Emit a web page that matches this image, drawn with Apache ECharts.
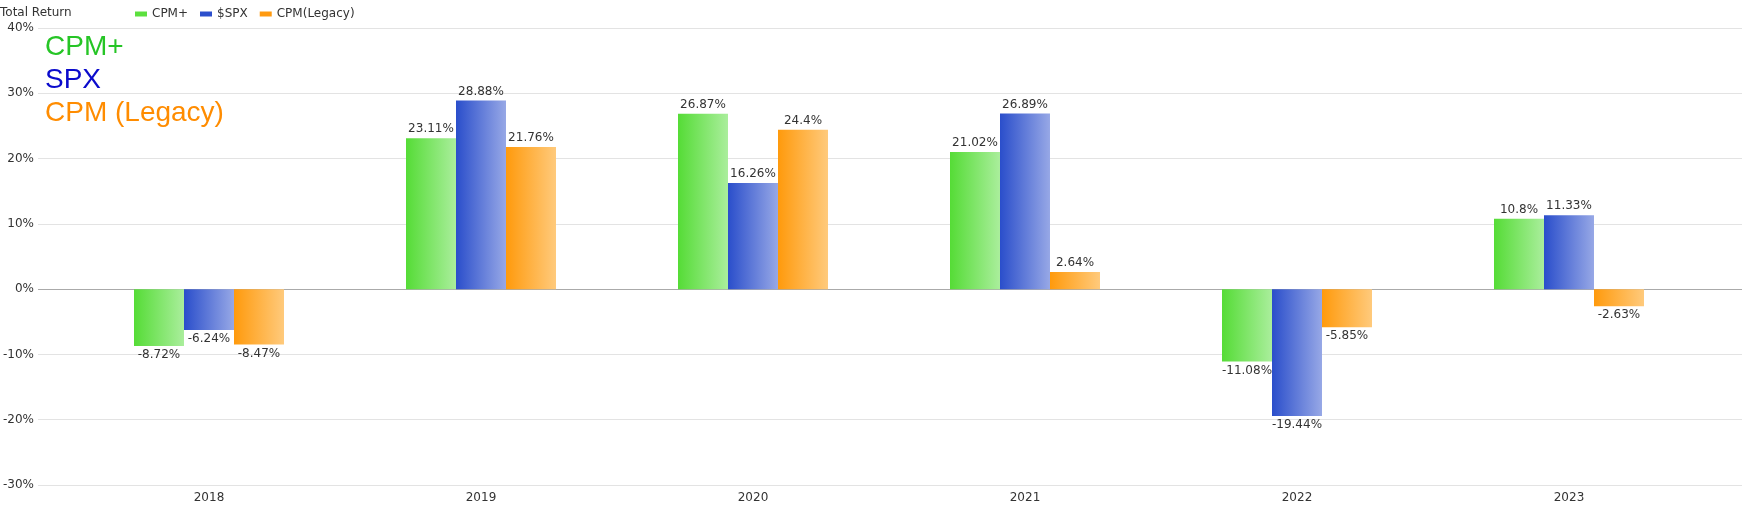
<!DOCTYPE html>
<html>
<head>
<meta charset="utf-8">
<script src="https://cdn.jsdelivr.net/npm/echarts@6/dist/echarts.min.js"></script>
<style>
html,body{margin:0;padding:0;background:#fff;}
#chart{width:1751px;height:506px;}
</style>
</head>
<body>
<div id="chart"></div>
<script>
const categories = ['2018', '2019', '2020', '2021', '2022', '2023'];
const seriesNames = ['CPM+', '$SPX', 'CPM(Legacy)'];
const cpmPlus = [-8.72, 23.11, 26.87, 21.02, -11.08, 10.8];
const spx = [-6.24, 28.88, 16.26, 26.89, -19.44, 11.33];
const cpmLegacy = [-8.47, 21.76, 24.4, 2.64, -5.85, -2.63];
const yTicks = [-30, -20, -10, 0, 10, 20, 30, 40];
const annotations = ['CPM+', 'SPX', 'CPM (Legacy)'];

const gradients = [
  ['#55dc36', '#aaee9c'],
  ['#2a4ecb', '#97a8e6'],
  ['#ff9a0c', '#ffca7c']
];
const solid = ['#5ce03e', '#2c4fcc', '#ff9a10'];
const annColors = ['#26c526', '#0b0bcc', '#ff8c00'];
const FONT = 'DejaVu Sans, sans-serif';

function grad(c) {
  return {type: 'linear', x: 0, y: 0, x2: 1, y2: 0,
    colorStops: [{offset: 0, color: c[0]}, {offset: 1, color: c[1]}]};
}
function mkData(vals) {
  return vals.map(v => ({value: v, label: {position: v < 0 ? 'bottom' : 'top'}}));
}
const values = [cpmPlus, spx, cpmLegacy];
const yMin = yTicks[0], yMax = yTicks[yTicks.length - 1];
const splitColors = yTicks.map(t => t === 0 ? '#aaaaaa' : '#e3e3e3');

const chart = echarts.init(document.getElementById('chart'), null, {renderer: 'canvas'});
chart.setOption({
  animation: false,
  textStyle: {fontFamily: FONT},
  title: {
    text: 'Total Return', left: 0, top: 7, padding: 0,
    textStyle: {fontSize: 12, fontWeight: 'normal', color: '#333', fontFamily: FONT}
  },
  legend: {
    left: 130, top: 3, itemWidth: 12, itemHeight: 5, itemGap: 12,
    textStyle: {fontSize: 12, color: '#333', fontFamily: FONT},
    data: seriesNames.map((n, i) => ({name: n, icon: 'rect', itemStyle: {color: solid[i]}}))
  },
  graphic: annotations.map((t, i) => ({
    type: 'text', left: 45, top: 33 + i * 33, z: 10,
    style: {text: t, fill: annColors[i], fontSize: 28, fontFamily: 'Liberation Sans, Arial, sans-serif'}
  })),
  grid: [
    {left: 37, right: 9, top: 28, bottom: 21},
    {left: 73, right: 46, top: 28, bottom: 21}
  ],
  xAxis: [
    {gridIndex: 0, type: 'category', data: [''], show: false},
    {gridIndex: 1, type: 'category', data: categories,
      axisLine: {show: false, onZero: false}, axisTick: {show: false},
      axisLabel: {fontSize: 12, color: '#333', margin: 7, fontFamily: FONT}}
  ],
  yAxis: [
    {gridIndex: 0, type: 'value', min: yMin, max: yMax, interval: 10,
      axisLabel: {formatter: '{value}%', fontSize: 12, color: '#333', margin: 4, fontFamily: FONT},
      axisLine: {show: false}, axisTick: {show: false},
      splitLine: {lineStyle: {color: splitColors, width: 1}}},
    {gridIndex: 1, type: 'value', min: yMin, max: yMax, interval: 10, show: false,
      splitLine: {show: false}}
  ],
  series: seriesNames.map((n, i) => ({
    name: n, type: 'bar', xAxisIndex: 1, yAxisIndex: 1,
    barWidth: 50, barGap: '0%',
    itemStyle: {color: grad(gradients[i])},
    label: {show: true, distance: 3, fontSize: 12, color: '#333', fontFamily: FONT,
      formatter: p => p.value + '%'},
    data: mkData(values[i])
  }))
});
</script>
</body>
</html>
